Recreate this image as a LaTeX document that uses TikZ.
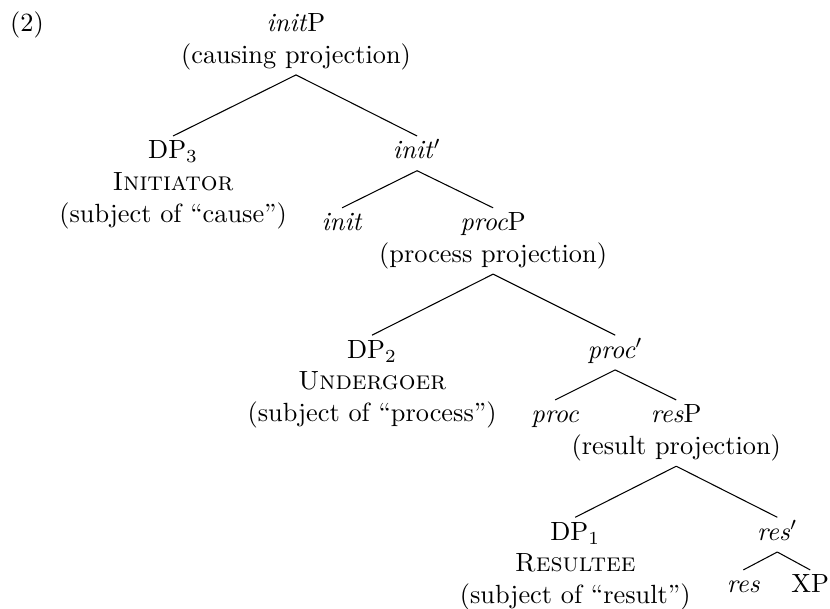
\documentclass[tikz,border=0pt]{standalone}
\usepackage{tikz}
\usetikzlibrary{positioning}
\definecolor{ink}{HTML}{000000}
\newcommand\tup{\vrule height 8.5pt depth 0pt width 0pt}
\newcommand\tdn{\vrule height 0pt depth 4.3pt width 0pt}
\tikzset{
  lbl/.style   ={inner sep=0pt,align=center,text=ink,
                 execute at begin node=\tup,execute at end node=\tdn},
  branch/.style={line width=0.4pt,draw=ink}
}
\begin{document}
\begin{tikzpicture}[x=0.38pt,y=-0.38pt]
  \useasboundingbox (0,0) rectangle (830,609);
  \node[anchor=base,inner sep=0pt] (ex) at (27,31) {(2)};
  \node[lbl,anchor=north] (initP) at (296,8.6) {\tup\textit{init}P\\(causing projection)};
  \node[lbl,below=23.2pt of initP.south,xshift=-46.7pt] (dp3)
    {\tup DP$_3$\\\textsc{Initiator}\\(subject of “cause”)};
  \node[lbl,below=23.2pt of initP.south,xshift=46pt] (initbar) {\textit{init}$'$};
  \node[lbl,below=14.1pt of initbar.south,xshift=-28.5pt] (init) {\textit{init}};
  \node[lbl,below=14.1pt of initbar.south,xshift=28.9pt] (procP)
    {\tup\textit{proc}P\\(process projection)};
  \node[lbl,below=23.2pt of procP.south,xshift=-46pt] (dp2)
    {\tup DP$_2$\\\textsc{Undergoer}\\(subject of “process”)};
  \node[lbl,below=23.2pt of procP.south,xshift=46.4pt] (procbar) {\textit{proc}$'$};
  \node[lbl,below=11.4pt of procbar.south,xshift=-22.8pt] (proc) {\textit{proc}};
  \node[lbl,below=11.4pt of procbar.south,xshift=23.2pt] (resP)
    {\tup\textit{res}P\\(result projection)};
  \node[lbl,below=19.4pt of resP.south,xshift=-38.4pt] (dp1)
    {\tup DP$_1$\\\textsc{Resultee}\\(subject of “result”)};
  \node[lbl,below=19.4pt of resP.south,xshift=38.4pt] (resbar) {\textit{res}$'$};
  \node[lbl,below=6.8pt of resbar.south,xshift=-12.9pt] (res) {\textit{res}};
  \node[lbl,below=6.8pt of resbar.south,xshift=12.5pt] (xp) {XP};
  \foreach \a/\b in {initP/dp3,initP/initbar,initbar/init,initbar/procP,
                     procP/dp2,procP/procbar,procbar/proc,procbar/resP,
                     resP/dp1,resP/resbar,resbar/res,resbar/xp}
    \draw[branch] (\a.south) -- (\b.north);
\end{tikzpicture}
\end{document}
